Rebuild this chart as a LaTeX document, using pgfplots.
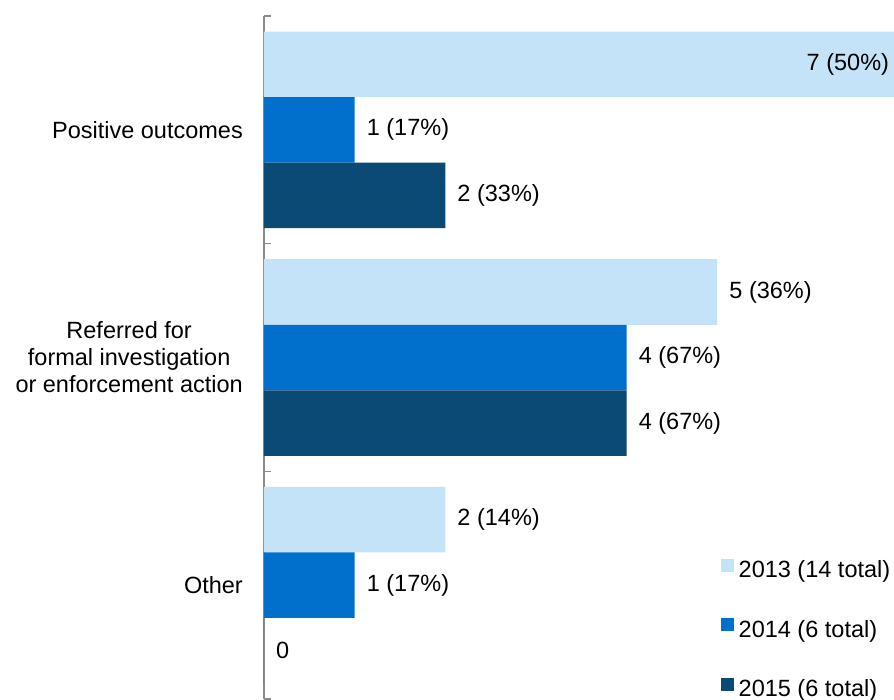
\documentclass[border=0pt]{standalone}
\usepackage{pgfplots}
\pgfplotsset{compat=1.18}
\usepackage{fontspec}
\setmainfont{Liberation Sans}
\definecolor{c2013}{HTML}{C5E3F8}
\definecolor{c2014}{HTML}{0070CC}
\definecolor{c2015}{HTML}{0C4A76}
\definecolor{axgray}{HTML}{8C8C8C}
\newcommand\myfont{\fontsize{23.5}{27}\selectfont}
\begin{document}
\begin{tikzpicture}
\begin{axis}[
    xbar=0pt,
    bar width=65.5pt,
    scale only axis,
    width=630pt, height=683pt,
    xmin=0, xmax=6.95,
    ymin=-0.5, ymax=2.5,
    y dir=reverse,
    hide x axis,
    axis y line*=left,
    y axis line style={axgray, line width=1.5pt},
    ytick={0,1,2},
    yticklabels={{Positive outcomes},{Referred for\\formal investigation\\or enforcement action},{Other}},
    major tick length=0pt,
    minor ytick={-0.5,0.5,1.5,2.5},
    minor tick length=7pt,
    tick align=inside,
    tick style={axgray, line width=1.5pt},
    yticklabel style={font=\myfont, align=center, inner sep=0pt, xshift=-21pt},
    clip=false,
    point meta=explicit symbolic,
    nodes near coords={\pgfplotspointmeta},
    visualization depends on={rawx \as \myx},
    every node near coord/.append style={font=\myfont, anchor=west, inner sep=0pt,
        xshift={\myx>6.5 ? -92 : 12}},
    legend style={at={(0.7254,0.2055)}, anchor=north west, draw=none, fill=none,
        font=\myfont, inner sep=0pt, row sep=35.5pt, column sep=5pt,
        nodes={inner sep=0pt, text height=17pt, text depth=5pt}},
    legend cell align=left,
    legend image code/.code={\fill[#1] (0pt,0pt) rectangle (12.5pt,13pt);},
]
% 2013
\addplot[fill=c2013, draw=none, bar shift=65.5pt] coordinates {
    (7,0) [7 (50\%)]
    (5,1) [5 (36\%)]
    (2,2) [2 (14\%)]
};
% 2014
\addplot[fill=c2014, draw=none, bar shift=0pt] coordinates {
    (1,0) [1 (17\%)]
    (4,1) [4 (67\%)]
    (1,2) [1 (17\%)]
};
% 2015
\addplot[fill=c2015, draw=none, bar shift=-65.5pt] coordinates {
    (2,0) [2 (33\%)]
    (4,1) [4 (67\%)]
    (0,2) [0]
};
\legend{2013 (14 total),2014 (6 total),2015 (6 total)}
\end{axis}
\pgfresetboundingbox
\useasboundingbox (-264pt,-1pt) rectangle (630pt,699pt);
\end{tikzpicture}
\end{document}
